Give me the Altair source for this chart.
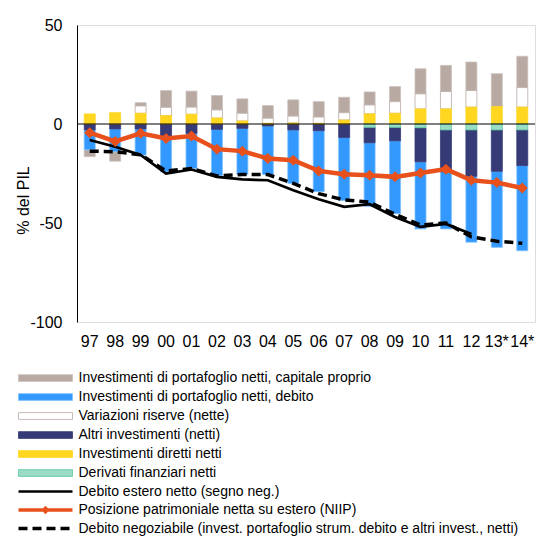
import altair as alt
import pandas as pd

FONT = "Liberation Sans"

years = ["97", "98", "99", "00", "01", "02", "03", "04", "05", "06", "07",
         "08", "09", "10", "11", "12", "13*", "14*"]

# bar components (% of GDP)
equity = [-3.5, -4.8, 1.7, 8.5, 8.1, 7.3, 7.3, 6.4, 8.2, 7.8, 7.8, 6.6, 7.6, 12.7, 13.2, 14.4, 16.6, 15.8]
debt = [-10.0, -11.5, -13.2, -17.2, -17.8, -23.3, -23.3, -24.5, -27.0, -30.8, -31.8, -32.1, -36.8, -33.9, -28.8, -33.3, -38.4, -43.0]
reserves = [0, 0, 3.7, 4.2, 3.6, 4.1, 3.9, 2.6, 3.5, 3.2, 3.7, 4.5, 5.9, 7.6, 8.8, 8.4, 0, 9.9]
other = [-3.0, -2.5, -2.5, -7.0, -4.7, -2.7, -2.2, -1.0, -3.0, -3.4, -6.8, -7.8, -6.8, -17.2, -21.2, -23.4, -20.9, -18.0]
direct = [5.1, 5.7, 5.4, 4.2, 4.9, 3.0, 1.5, 0.3, 0.5, 0.3, 2.0, 5.1, 5.4, 7.6, 7.6, 8.5, 8.8, 8.5]
deriv = [0, 0, 0, 0, 0, 0, 0, 0, 0, 0, 0, -1.7, -1.7, -1.9, -3.0, -3.0, -3.0, -3.0]

# lines (% of GDP)
net_debt = [-8.1, -11.5, -15.6, -25.0, -23.0, -26.7, -28.0, -28.4, -33.5, -38.0, -41.8, -40.5, -47.0, -52.0, -50.5, -55.5, None, None]
niip = [-4.4, -8.8, -4.7, -7.3, -6.1, -12.7, -13.7, -17.4, -18.3, -23.7, -25.4, -25.9, -26.7, -24.7, -22.8, -28.4, -29.6, -32.3]
negotiable = [-13.7, -14.0, -15.5, -23.7, -22.5, -26.2, -25.5, -25.5, -30.0, -35.2, -38.3, -39.5, -45.6, -51.0, -50.0, -57.0, -59.2, -60.2]

comp_names = ["Investimenti di portafoglio netti, capitale proprio",
              "Investimenti di portafoglio netti, debito",
              "Variazioni riserve (nette)",
              "Altri investimenti (netti)",
              "Investimenti diretti netti",
              "Derivati finanziari netti"]
comp_fill = ["#b8aaa3", "#3399ff", "#ffffff", "#363a76", "#ffd620", "#9adcc4"]
comp_stroke = ["#cbc1bc", "#7cc0ff", "#b8aaa3", "#363a76", "#ffd620", "#5cc7a2"]
stack_order = [6, 5, 4, 3, 2, 1]
comp_values = [equity, debt, reserves, other, direct, deriv]

name_debt = "Debito estero netto (segno neg.)"
name_niip = "Posizione patrimoniale netta su estero (NIIP)"
name_neg = "Debito negoziabile (invest. portafoglio strum. debito e altri invest., netti)"
ORANGE = "#e8501c"

rows = []
for name, vals, o in zip(comp_names, comp_values, stack_order):
    for yr, v in zip(years, vals):
        if v != 0:
            rows.append({"year": yr, "comp": name, "value": v, "ord": o})
bars_df = pd.DataFrame(rows)


def line_frame(name, vals):
    return pd.DataFrame([{"year": yr, "series": name, "value": v}
                         for yr, v in zip(years, vals) if v is not None])


debt_df = line_frame(name_debt, net_debt)
niip_df = line_frame(name_niip, niip)
neg_df = line_frame(name_neg, negotiable)

X = alt.X("year:N", sort=years,
          scale=alt.Scale(paddingInner=0.568, paddingOuter=0.284),
          axis=alt.Axis(title=None, labelAngle=0, ticks=False, domain=False,
                        labelFontSize=16, labelFont=FONT, labelColor="black",
                        labelPadding=11))

yscale = alt.Scale(domain=[-100, 50], nice=False)
yaxis = alt.Axis(values=[50, 0, -50, -100], ticks=False, grid=False,
                 domainColor="black", domainWidth=1,
                 labelFontSize=16, labelFont=FONT, labelColor="black",
                 labelPadding=15, labelExpr="'' + datum.value",
                 title="% del PIL", titleFontSize=16, titleFont=FONT,
                 titleFontWeight="normal", titleColor="black",
                 titleX=-49, titleY=175, titleAngle=270,
                 titleBaseline="alphabetic", titleAlign="center")
Y = alt.Y("value:Q", scale=yscale, axis=yaxis)

common_leg = dict(title=None, orient="none", legendX=-61, symbolSize=81,
                  labelOffset=48.5, rowPadding=5.0, labelFontSize=14,
                  labelFont=FONT, labelColor="black", labelLimit=700)

bar_legend = alt.Legend(legendY=346, symbolType="M-1,-0.75H11V0.75H-1Z",
                        symbolStrokeWidth=0.8, **common_leg)

fill_enc = alt.Fill("comp:N", scale=alt.Scale(domain=comp_names, range=comp_fill), legend=bar_legend)
stroke_enc = alt.Stroke("comp:N", scale=alt.Scale(domain=comp_names, range=comp_stroke), legend=bar_legend)

bars = alt.Chart(bars_df).mark_bar(strokeWidth=0.8).encode(
    x=X,
    y=alt.Y("value:Q", stack="zero", scale=yscale, axis=yaxis),
    fill=fill_enc,
    stroke=stroke_enc,
    order=alt.Order("ord:Q", sort="ascending"),
)

zero_rule = alt.Chart(pd.DataFrame({"value": [0]})).mark_rule(color="black", strokeWidth=1).encode(y=Y)

debt_line = alt.Chart(debt_df).mark_line(strokeWidth=2.7).encode(
    x=X, y=Y,
    color=alt.Color("series:N", scale=alt.Scale(domain=[name_debt], range=["#000000"]),
                    legend=alt.Legend(legendY=459.5, symbolType="M-1,0H11",
                                      symbolStrokeWidth=2.5, symbolStrokeColor="black",
                                      **common_leg)),
)

neg_line = alt.Chart(neg_df).mark_line(strokeWidth=3.5, color="black").encode(
    x=X, y=Y,
    strokeDash=alt.StrokeDash("series:N", scale=alt.Scale(domain=[name_neg], range=[[9, 5]]),
                              legend=alt.Legend(legendY=496.5, symbolType="M-1,0H11",
                                                symbolStrokeWidth=3.3, symbolStrokeColor="black",
                                                **common_leg)),
)

niip_line = alt.Chart(niip_df).mark_line(strokeWidth=4.5, color=ORANGE).encode(
    x=X, y=Y,
    opacity=alt.Opacity("series:N", scale=alt.Scale(domain=[name_niip], range=[1]),
                        legend=alt.Legend(legendY=478,
                                          symbolType="M-1,0H11M4.6,0L5,-0.4L5.4,0L5,0.4Z",
                                          symbolStrokeWidth=3.3, symbolStrokeColor=ORANGE,
                                          symbolFillColor=ORANGE, symbolOpacity=1,
                                          **common_leg)),
)

niip_points = alt.Chart(niip_df).mark_point(shape="diamond", filled=True, size=121,
                                             color=ORANGE, opacity=1).encode(x=X, y=Y)

chart = alt.layer(bars, zero_rule, debt_line, neg_line, niip_line, niip_points).properties(
    width=458, height=297,
    autosize=alt.AutoSizeParams(type="none"),
    padding={"left": 69, "top": 17, "right": 9, "bottom": 214},
).configure_view(stroke=None).configure(background="white")

chart.save("out.html", embed_options={"renderer": "svg", "actions": False})
